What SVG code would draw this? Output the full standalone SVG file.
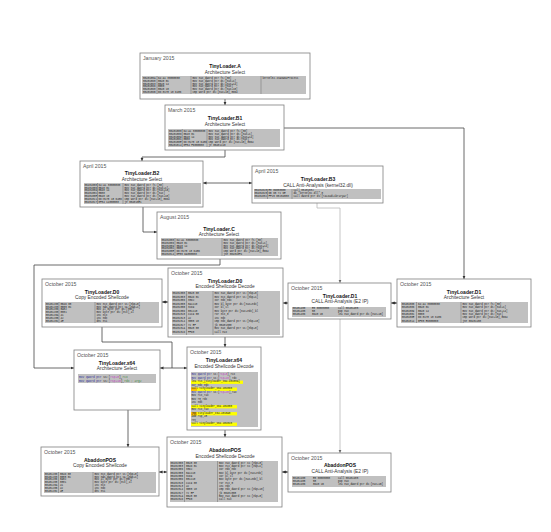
<svg xmlns="http://www.w3.org/2000/svg" width="551" height="532" viewBox="0 0 551 532">
<style>
.box{fill:#fff;stroke:#7f7f7f;stroke-width:0.8}
.dt{font-family:"Liberation Sans",sans-serif;font-size:5.2px;fill:#555}
.nm{font-family:"Liberation Sans",sans-serif;font-size:5px;font-weight:bold;fill:#111;text-anchor:middle}
.sb{font-family:"Liberation Sans",sans-serif;font-size:4.8px;fill:#333;text-anchor:middle}
.cb{fill:#c0c0c0}
.c{font-family:"Liberation Mono",monospace;font-size:2.6px;fill:#222}
.dv{stroke:#555;stroke-width:0.4}
.ln{fill:none;stroke:#444;stroke-width:0.8}
.lg{fill:none;stroke:#b8b8b8;stroke-width:0.8}
.hy{fill:#ffff00}
.ho{fill:#ffc000}
.kw{fill:#30309a}
.pk{fill:#c03cc0}
.gr{fill:#3a8a3a}
</style>
<defs>
<marker id="ah" markerWidth="4" markerHeight="4" refX="3.5" refY="2" orient="auto-start-reverse" markerUnits="userSpaceOnUse"><path d="M0,0.4 L3.5,2 L0,3.6z" fill="#333"/></marker>
<marker id="ahg" markerWidth="4" markerHeight="4" refX="3.5" refY="2" orient="auto-start-reverse" markerUnits="userSpaceOnUse"><path d="M0,0.4 L3.5,2 L0,3.6z" fill="#666"/></marker>
</defs>
<rect width="551" height="532" fill="#fff"/>

<g id="connectors">
<path class="ln" d="M225,99 V105" marker-end="url(#ah)"/>
<path class="ln" d="M225,150 V157 H142 V161" marker-end="url(#ah)"/>
<path class="ln" d="M284,128 H464 V279" marker-end="url(#ah)"/>
<path class="ln" d="M203,183 H252" marker-start="url(#ah)" marker-end="url(#ah)"/>
<path class="ln" d="M143,207 V232 H157" marker-end="url(#ah)"/>
<path class="lg" d="M317,203 V208 H340 V283" marker-end="url(#ahg)"/>
<path class="ln" d="M220,259 V265 H34 V368 H74" marker-end="url(#ah)"/>
<path class="ln" d="M162,302 H168" marker-start="url(#ah)" marker-end="url(#ah)"/>
<path class="ln" d="M283,303 H288" marker-start="url(#ah)" marker-end="url(#ah)"/>
<path class="ln" d="M391,303 H397" marker-start="url(#ah)" marker-end="url(#ah)"/>
<path class="ln" d="M225,337 V347" marker-end="url(#ah)"/>
<path class="ln" d="M102,327 V342 H172 V368"/>
<path class="ln" d="M160,368 H187" marker-start="url(#ah)" marker-end="url(#ah)"/>
<path class="ln" d="M128,410 V447" marker-end="url(#ah)"/>
<path class="ln" d="M225,430 V437" marker-end="url(#ah)"/>
<path class="lg" d="M340,319 V453" marker-end="url(#ahg)"/>
<path class="ln" d="M159,472 H167" marker-start="url(#ah)" marker-end="url(#ah)"/>
<path class="ln" d="M282,472 H288" marker-start="url(#ah)" marker-end="url(#ah)"/>
</g>

<g id="node-a">
<rect class="box" x="140" y="53" width="170" height="46"/>
<text class="dt" x="143" y="60">January 2015</text>
<text class="nm" x="225" y="67.5">TinyLoader.A</text>
<text class="sb" x="225" y="73.5">Architecture Select</text>
<rect class="cb" x="142" y="76" width="164" height="18"/>
<line class="dv" x1="157" y1="76" x2="157" y2="94"/><line class="dv" x1="191" y1="76" x2="191" y2="94"/><line class="dv" x1="261" y1="76" x2="261" y2="94"/>
<text class="c" y="78.7"><tspan x="143">0040105A</tspan><tspan x="158">64:A1 30000000</tspan><tspan x="192.5">mov eax,dword ptr fs:[30]</tspan><tspan x="262.5">kernel32.IsWow64Process</tspan></text>
<text class="c" y="81.6"><tspan x="143">00401060</tspan><tspan x="158">8B40 0C</tspan><tspan x="192.5">mov eax,dword ptr ds:[eax+C]</tspan></text>
<text class="c" y="84.5"><tspan x="143">00401063</tspan><tspan x="158">8B40 14</tspan><tspan x="192.5">mov eax,dword ptr ds:[eax+14]</tspan></text>
<text class="c" y="87.4"><tspan x="143">00401066</tspan><tspan x="158">8B00</tspan><tspan x="192.5">mov eax,dword ptr ds:[eax]</tspan></text>
<text class="c" y="90.3"><tspan x="143">00401068</tspan><tspan x="158">8B40 10</tspan><tspan x="192.5">mov eax,dword ptr ds:[eax+10]</tspan></text>
<text class="c" y="93.2"><tspan x="143">0040106B</tspan><tspan x="158">66:8178 18 6486</tspan><tspan x="192.5">cmp word ptr ds:[eax+18],8664</tspan></text>
</g>

<g id="node-b1">
<rect class="box" x="165" y="105" width="119" height="45"/>
<text class="dt" x="168" y="111.5">March 2015</text>
<text class="nm" x="225" y="120">TinyLoader.B1</text>
<text class="sb" x="225" y="126">Architecture Select</text>
<rect class="cb" x="168" y="129" width="112" height="18"/>
<line class="dv" x1="182.3" y1="129" x2="182.3" y2="147"/><line class="dv" x1="207" y1="129" x2="207" y2="147"/>
<text class="c" y="131.7"><tspan x="169">00401000</tspan><tspan x="183.5">64:A1 30000000</tspan><tspan x="208.5">mov eax,dword ptr fs:[30]</tspan></text>
<text class="c" y="134.6"><tspan x="169">00401006</tspan><tspan x="183.5">8B40 0C</tspan><tspan x="208.5">mov eax,dword ptr ds:[eax+C]</tspan></text>
<text class="c" y="137.5"><tspan x="169">00401009</tspan><tspan x="183.5">8B40 14</tspan><tspan x="208.5">mov eax,dword ptr ds:[eax+14]</tspan></text>
<text class="c" y="140.4"><tspan x="169">0040100C</tspan><tspan x="183.5">8B00</tspan><tspan x="208.5">mov eax,dword ptr ds:[eax]</tspan></text>
<text class="c" y="143.3"><tspan x="169">0040100E</tspan><tspan x="183.5">66:8178 18 6486</tspan><tspan x="208.5">cmp word ptr ds:[eax+18],8664</tspan></text>
<text class="c" y="146.2"><tspan x="169">00401014</tspan><tspan x="183.5">0F84 F6000000</tspan><tspan x="208.5">je 00401110</tspan></text>
</g>

<g id="node-b2">
<rect class="box" x="80" y="161" width="123" height="46"/>
<text class="dt" x="83" y="167.5">April 2015</text>
<text class="nm" x="142" y="175">TinyLoader.B2</text>
<text class="sb" x="142" y="180.5">Architecture Select</text>
<rect class="cb" x="84" y="183" width="117" height="21"/>
<line class="dv" x1="97.5" y1="183" x2="97.5" y2="204"/><line class="dv" x1="123" y1="183" x2="123" y2="204"/>
<text class="c" y="185.6"><tspan x="84.5">00401000</tspan><tspan x="98.5">64:A1 30000000</tspan><tspan x="124.5">mov eax,dword ptr fs:[30]</tspan></text>
<text class="c" y="188.5"><tspan x="84.5">00401006</tspan><tspan x="98.5">8B40 0C</tspan><tspan x="124.5">mov eax,dword ptr ds:[eax+C]</tspan></text>
<text class="c" y="191.4"><tspan x="84.5">00401009</tspan><tspan x="98.5">8B40 14</tspan><tspan x="124.5">mov eax,dword ptr ds:[eax+14]</tspan></text>
<text class="c" y="194.3"><tspan x="84.5">0040100C</tspan><tspan x="98.5">8B00</tspan><tspan x="124.5">mov eax,dword ptr ds:[eax]</tspan></text>
<text class="c" y="197.2"><tspan x="84.5">0040100E</tspan><tspan x="98.5">8B40 10</tspan><tspan x="124.5">mov eax,dword ptr ds:[eax+10]</tspan></text>
<text class="c" y="200.1"><tspan x="84.5">00401011</tspan><tspan x="98.5">66:8178 18 6486</tspan><tspan x="124.5">cmp word ptr ds:[eax+18],8664</tspan></text>
<text class="c" y="203"><tspan x="84.5">00401017</tspan><tspan x="98.5">0F84 C4000000</tspan><tspan x="124.5">je 004010E1</tspan></text>
</g>

<g id="node-b3">
<rect class="box" x="252" y="166" width="131" height="37"/>
<text class="dt" x="255" y="172.5">April 2015</text>
<text class="nm" x="318" y="180.5">TinyLoader.B3</text>
<text class="sb" x="318" y="186.5">CALL Anti-Analysis (kernel32.dll)</text>
<rect class="cb" x="254" y="189" width="127" height="10"/>
<line class="dv" x1="267.5" y1="189" x2="267.5" y2="199"/><line class="dv" x1="292" y1="189" x2="292" y2="199"/>
<text class="c" y="191.4"><tspan x="254.5">00401020</tspan><tspan x="268.5">E8 0D000000</tspan><tspan x="293.5">call 00401032</tspan></text>
<text class="c" y="194.3"><tspan x="254.5">00401025</tspan><tspan x="268.5">6B 65 72 6E</tspan><tspan x="293.5">db "kernel32.dll",0</tspan></text>
<text class="c" y="197.2"><tspan x="254.5">00401032</tspan><tspan x="268.5">FF15 08204000</tspan><tspan x="293.5">call dword ptr ds:[&lt;&amp;LoadLibraryA&gt;]</tspan></text>
</g>

<g id="node-c">
<rect class="box" x="157" y="212" width="124" height="47"/>
<text class="dt" x="160" y="218.5">August 2015</text>
<text class="nm" x="219" y="230.5">TinyLoader.C</text>
<text class="sb" x="219" y="236">Architecture Select</text>
<rect class="cb" x="161" y="238" width="117" height="18"/>
<line class="dv" x1="175" y1="238" x2="175" y2="256"/><line class="dv" x1="222" y1="238" x2="222" y2="256"/>
<text class="c" y="240.7"><tspan x="161.5">00401000</tspan><tspan x="176.5">64:A1 30000000</tspan><tspan x="223.5">mov eax,dword ptr fs:[30]</tspan></text>
<text class="c" y="243.6"><tspan x="161.5">00401006</tspan><tspan x="176.5">8B40 0C</tspan><tspan x="223.5">mov eax,dword ptr ds:[eax+C]</tspan></text>
<text class="c" y="246.5"><tspan x="161.5">00401009</tspan><tspan x="176.5">8B40 14</tspan><tspan x="223.5">mov eax,dword ptr ds:[eax+14]</tspan></text>
<text class="c" y="249.4"><tspan x="161.5">0040100C</tspan><tspan x="176.5">8B00</tspan><tspan x="223.5">mov eax,dword ptr ds:[eax]</tspan></text>
<text class="c" y="252.3"><tspan x="161.5">0040100E</tspan><tspan x="176.5">66:8178 18 6486</tspan><tspan x="223.5">cmp word ptr ds:[eax+18],8664</tspan></text>
<text class="c" y="255.2"><tspan x="161.5">00401014</tspan><tspan x="176.5">0F85 DA000000</tspan><tspan x="223.5">jne 004010F4</tspan></text>
</g>

<g id="node-d0-copy">
<rect class="box" x="42" y="279" width="120" height="48"/>
<text class="dt" x="45" y="285.5">October 2015</text>
<text class="nm" x="102" y="293.5">TinyLoader.D0</text>
<text class="sb" x="102" y="299">Copy Encoded Shellcode</text>
<rect class="cb" x="45" y="302" width="114" height="21"/>
<line class="dv" x1="59" y1="302" x2="59" y2="323"/><line class="dv" x1="95" y1="302" x2="95" y2="323"/>
<text class="c" y="304.6"><tspan x="45.8">00401200</tspan><tspan x="60.5">8B4D 08</tspan><tspan x="96.5">mov ecx,dword ptr ss:[ebp+8]</tspan></text>
<text class="c" y="307.5"><tspan x="45.8">00401203</tspan><tspan x="60.5">8B55 0C</tspan><tspan x="96.5">mov edx,dword ptr ss:[ebp+C]</tspan></text>
<text class="c" y="310.4"><tspan x="45.8">00401206</tspan><tspan x="60.5">8A02</tspan><tspan x="96.5">mov al,byte ptr ds:[edx]</tspan></text>
<text class="c" y="313.3"><tspan x="45.8">00401208</tspan><tspan x="60.5">8801</tspan><tspan x="96.5">mov byte ptr ds:[ecx],al</tspan></text>
<text class="c" y="316.2"><tspan x="45.8">0040120A</tspan><tspan x="60.5">41</tspan><tspan x="96.5">inc ecx</tspan></text>
<text class="c" y="319.1"><tspan x="45.8">0040120B</tspan><tspan x="60.5">42</tspan><tspan x="96.5">inc edx</tspan></text>
<text class="c" y="322"><tspan x="45.8">0040120C</tspan><tspan x="60.5">4E</tspan><tspan x="96.5">dec esi</tspan></text>
</g>

<g id="node-d0-decode">
<rect class="box" x="168" y="268" width="115" height="69"/>
<text class="dt" x="171" y="274.5">October 2015</text>
<text class="nm" x="225" y="282.5">TinyLoader.D0</text>
<text class="sb" x="225" y="288">Encoded Shellcode Decode</text>
<rect class="cb" x="172" y="291" width="108" height="44"/>
<line class="dv" x1="186.5" y1="291" x2="186.5" y2="335"/><line class="dv" x1="213" y1="291" x2="213" y2="335"/>
<text class="c" y="294"><tspan x="172.5">00401300</tspan><tspan x="188">8B45 08</tspan><tspan x="214.5">mov eax,dword ptr ss:[ebp+8]</tspan></text>
<text class="c" y="297.5"><tspan x="172.5">00401303</tspan><tspan x="188">8B4D 0C</tspan><tspan x="214.5">mov ecx,dword ptr ss:[ebp+C]</tspan></text>
<text class="c" y="301"><tspan x="172.5">00401306</tspan><tspan x="188">33D2</tspan><tspan x="214.5">xor edx,edx</tspan></text>
<text class="c" y="304.5"><tspan x="172.5">00401308</tspan><tspan x="188">8A1C10</tspan><tspan x="214.5">mov bl,byte ptr ds:[eax+edx]</tspan></text>
<text class="c" y="308"><tspan x="172.5">0040130B</tspan><tspan x="188">32D9</tspan><tspan x="214.5">xor bl,cl</tspan></text>
<text class="c" y="311.5"><tspan x="172.5">0040130D</tspan><tspan x="188">881C10</tspan><tspan x="214.5">mov byte ptr ds:[eax+edx],bl</tspan></text>
<text class="c" y="315"><tspan x="172.5">00401310</tspan><tspan x="188">C1C9 08</tspan><tspan x="214.5">ror ecx,8</tspan></text>
<text class="c" y="318.5"><tspan x="172.5">00401313</tspan><tspan x="188">42</tspan><tspan x="214.5">inc edx</tspan></text>
<text class="c" y="322"><tspan x="172.5">00401314</tspan><tspan x="188">3B55 10</tspan><tspan x="214.5">cmp edx,dword ptr ss:[ebp+10]</tspan></text>
<text class="c" y="325.5"><tspan x="172.5">00401317</tspan><tspan x="188">72 EF</tspan><tspan x="214.5">jb 00401308</tspan></text>
<text class="c" y="329"><tspan x="172.5">0040131A</tspan><tspan x="188">8B45 08</tspan><tspan x="214.5">mov eax,dword ptr ss:[ebp+8]</tspan></text>
<text class="c" y="332.5"><tspan x="172.5">0040131D</tspan><tspan x="188">FFD0</tspan><tspan x="214.5">call eax</tspan></text>
</g>

<g id="node-d1-call">
<rect class="box" x="288" y="283" width="103" height="36"/>
<text class="dt" x="291" y="289.5">October 2015</text>
<text class="nm" x="340" y="297.5">TinyLoader.D1</text>
<text class="sb" x="340" y="303">CALL Anti-Analysis (E2 IP)</text>
<rect class="cb" x="292" y="307" width="94" height="10"/>
<text class="c" y="309.4"><tspan x="292.8">00401400</tspan><tspan x="312">E8 00000000</tspan><tspan x="338">call 00401405</tspan></text>
<text class="c" y="312.3"><tspan x="292.8">00401405</tspan><tspan x="312">58</tspan><tspan x="338">pop eax</tspan></text>
<text class="c" y="315.2"><tspan x="292.8">00401406</tspan><tspan x="312">8D40 1B</tspan><tspan x="338">lea eax,dword ptr ds:[eax+1B]</tspan></text>
</g>

<g id="node-d1-arch">
<rect class="box" x="397" y="279" width="134" height="48"/>
<text class="dt" x="400" y="285.5">October 2015</text>
<text class="nm" x="464" y="293.5">TinyLoader.D1</text>
<text class="sb" x="464" y="299">Architecture Select</text>
<rect class="cb" x="401" y="302" width="127" height="21"/>
<line class="dv" x1="416.5" y1="302" x2="416.5" y2="323"/><line class="dv" x1="461" y1="302" x2="461" y2="323"/>
<text class="c" y="304.8"><tspan x="401.8">00401000</tspan><tspan x="418">64:A1 30000000</tspan><tspan x="462.5">mov eax,dword ptr fs:[30]</tspan></text>
<text class="c" y="308.2"><tspan x="401.8">00401006</tspan><tspan x="418">8B40 0C</tspan><tspan x="462.5">mov eax,dword ptr ds:[eax+C]</tspan></text>
<text class="c" y="311.6"><tspan x="401.8">00401009</tspan><tspan x="418">8B40 14</tspan><tspan x="462.5">mov eax,dword ptr ds:[eax+14]</tspan></text>
<text class="c" y="315"><tspan x="401.8">0040100C</tspan><tspan x="418">8B00</tspan><tspan x="462.5">mov eax,dword ptr ds:[eax]</tspan></text>
<text class="c" y="318.4"><tspan x="401.8">0040100E</tspan><tspan x="418">66:8178 18 6486</tspan><tspan x="462.5">cmp word ptr ds:[eax+18],8664</tspan></text>
<text class="c" y="321.8"><tspan x="401.8">00401014</tspan><tspan x="418">0F85 E6000000</tspan><tspan x="462.5">jne 00401100</tspan></text>
</g>

<g id="node-x64">
<rect class="box" x="74" y="350" width="86" height="60"/>
<text class="dt" x="77" y="356.5">October 2015</text>
<text class="nm" x="117" y="364.5">TinyLoader.x64</text>
<text class="sb" x="117" y="370">Architecture Select</text>
<rect class="cb" x="78" y="374" width="78" height="9"/>
<text class="c" x="79" y="377.6" style="font-size:2.9px"><tspan class="kw">mov qword ptr</tspan> ss:[<tspan class="pk">rsp+8</tspan>],<tspan class="gr">rcx</tspan></text>
<text class="c" x="79" y="381.6" style="font-size:2.9px"><tspan class="kw">mov qword ptr</tspan> ss:[<tspan class="pk">rsp+10</tspan>],<tspan class="gr">rdx ; arg2</tspan></text>
</g>

<g id="node-d0-x64">
<rect class="box" x="187" y="347" width="74" height="83"/>
<text class="dt" x="190" y="353.5">October 2015</text>
<text class="nm" x="224" y="362">TinyLoader.x64</text>
<text class="sb" x="224" y="367.5">Encoded Shellcode Decode</text>
<rect class="cb" x="191" y="372" width="67" height="55"/>
<rect class="hy" x="191" y="380.6" width="52" height="3.3"/>
<rect class="hy" x="191" y="387.6" width="46" height="3.3"/>
<rect class="ho" x="191" y="387.6" width="6" height="3.3"/>
<rect class="hy" x="191" y="405.1" width="46" height="3.3"/>
<rect class="hy" x="191" y="412.1" width="46" height="3.3"/>
<rect class="ho" x="191" y="412.1" width="6" height="3.3"/>
<rect class="hy" x="191" y="422.6" width="46" height="3.3"/>
<text class="c" x="191.5" y="375.4"><tspan class="kw">mov qword ptr</tspan> ss:[<tspan class="pk">rsp+8</tspan>],rcx</text>
<text class="c" x="191.5" y="378.9"><tspan class="kw">mov qword ptr</tspan> ss:[<tspan class="pk">rsp+10</tspan>],rdx</text>
<text class="c" x="191.5" y="382.4">lea rcx,[tinyloader_x64.40103A]</text>
<text class="c" x="191.5" y="385.9">xor edx,edx</text>
<text class="c" x="191.5" y="389.4">call tinyloader_x64.401060</text>
<text class="c" x="191.5" y="392.9"><tspan class="kw">mov qword ptr</tspan> ss:[<tspan class="pk">rsp+20</tspan>],rax</text>
<text class="c" x="191.5" y="396.4">mov rcx,rax</text>
<text class="c" x="191.5" y="399.9">mov r8,rdx</text>
<text class="c" x="191.5" y="403.4">inc edx</text>
<text class="c" x="191.5" y="406.9">call tinyloader_x64.401080</text>
<text class="c" x="191.5" y="410.4">mov rcx,rax</text>
<text class="c" x="191.5" y="413.9">jmp tinyloader_x64.4010A0</text>
<text class="c" x="191.5" y="417.4">add rsp,28</text>
<text class="c" x="191.5" y="420.9">ret</text>
<text class="c" x="191.5" y="424.4">call tinyloader_x64.4010C0</text>
</g>

<g id="node-abaddon-copy">
<rect class="box" x="41" y="447" width="118" height="49"/>
<text class="dt" x="44" y="453.5">October 2015</text>
<text class="nm" x="100" y="461.5">AbaddonPOS</text>
<text class="sb" x="100" y="467">Copy Encoded Shellcode</text>
<rect class="cb" x="44" y="472" width="112" height="21"/>
<line class="dv" x1="58.5" y1="472" x2="58.5" y2="493"/><line class="dv" x1="93" y1="472" x2="93" y2="493"/>
<text class="c" y="474.6"><tspan x="44.8">00401200</tspan><tspan x="60">8B4D 08</tspan><tspan x="94.5">mov ecx,dword ptr ss:[ebp+8]</tspan></text>
<text class="c" y="477.5"><tspan x="44.8">00401203</tspan><tspan x="60">8B55 0C</tspan><tspan x="94.5">mov edx,dword ptr ss:[ebp+C]</tspan></text>
<text class="c" y="480.4"><tspan x="44.8">00401206</tspan><tspan x="60">8A02</tspan><tspan x="94.5">mov al,byte ptr ds:[edx]</tspan></text>
<text class="c" y="483.3"><tspan x="44.8">00401208</tspan><tspan x="60">8801</tspan><tspan x="94.5">mov byte ptr ds:[ecx],al</tspan></text>
<text class="c" y="486.2"><tspan x="44.8">0040120A</tspan><tspan x="60">41</tspan><tspan x="94.5">inc ecx</tspan></text>
<text class="c" y="489.1"><tspan x="44.8">0040120B</tspan><tspan x="60">42</tspan><tspan x="94.5">inc edx</tspan></text>
<text class="c" y="492"><tspan x="44.8">0040120C</tspan><tspan x="60">4E</tspan><tspan x="94.5">dec esi</tspan></text>
</g>

<g id="node-abaddon-decode">
<rect class="box" x="167" y="437" width="115" height="70"/>
<text class="dt" x="170" y="443.5">October 2015</text>
<text class="nm" x="225" y="452">AbaddonPOS</text>
<text class="sb" x="225" y="457.5">Encoded Shellcode Decode</text>
<rect class="cb" x="170" y="461" width="108" height="41"/>
<line class="dv" x1="184.5" y1="461" x2="184.5" y2="502"/><line class="dv" x1="217.5" y1="461" x2="217.5" y2="502"/>
<text class="c" y="463.8"><tspan x="170.5">00402300</tspan><tspan x="186">8B45 08</tspan><tspan x="219">mov eax,dword ptr ss:[ebp+8]</tspan></text>
<text class="c" y="467.1"><tspan x="170.5">00402303</tspan><tspan x="186">8B4D 0C</tspan><tspan x="219">mov ecx,dword ptr ss:[ebp+C]</tspan></text>
<text class="c" y="470.4"><tspan x="170.5">00402306</tspan><tspan x="186">33D2</tspan><tspan x="219">xor edx,edx</tspan></text>
<text class="c" y="473.7"><tspan x="170.5">00402308</tspan><tspan x="186">8A1C10</tspan><tspan x="219">mov bl,byte ptr ds:[eax+edx]</tspan></text>
<text class="c" y="477"><tspan x="170.5">0040230B</tspan><tspan x="186">32D9</tspan><tspan x="219">xor bl,cl</tspan></text>
<text class="c" y="480.3"><tspan x="170.5">0040230D</tspan><tspan x="186">881C10</tspan><tspan x="219">mov byte ptr ds:[eax+edx],bl</tspan></text>
<text class="c" y="483.6"><tspan x="170.5">00402310</tspan><tspan x="186">C1C9 08</tspan><tspan x="219">ror ecx,8</tspan></text>
<text class="c" y="486.9"><tspan x="170.5">00402313</tspan><tspan x="186">42</tspan><tspan x="219">inc edx</tspan></text>
<text class="c" y="490.2"><tspan x="170.5">00402314</tspan><tspan x="186">3B55 10</tspan><tspan x="219">cmp edx,dword ptr ss:[ebp+10]</tspan></text>
<text class="c" y="493.5"><tspan x="170.5">00402317</tspan><tspan x="186">72 EF</tspan><tspan x="219">jb 00402308</tspan></text>
<text class="c" y="496.8"><tspan x="170.5">0040231A</tspan><tspan x="186">8B45 08</tspan><tspan x="219">mov eax,dword ptr ss:[ebp+8]</tspan></text>
<text class="c" y="500.1"><tspan x="170.5">0040231D</tspan><tspan x="186">FFD0</tspan><tspan x="219">call eax</tspan></text>
</g>

<g id="node-abaddon-call">
<rect class="box" x="288" y="453" width="103" height="39"/>
<text class="dt" x="291" y="459.5">October 2015</text>
<text class="nm" x="340" y="467">AbaddonPOS</text>
<text class="sb" x="340" y="473">CALL Anti-Analysis (E2 IP)</text>
<rect class="cb" x="292" y="476" width="94" height="11"/>
<text class="c" y="478.6"><tspan x="292.8">00402400</tspan><tspan x="313">E8 00000000</tspan><tspan x="338">call 00402405</tspan></text>
<text class="c" y="481.6"><tspan x="292.8">00402405</tspan><tspan x="313">58</tspan><tspan x="338">pop eax</tspan></text>
<text class="c" y="484.6"><tspan x="292.8">00402406</tspan><tspan x="313">8D40 1B</tspan><tspan x="338">lea eax,dword ptr ds:[eax+1B]</tspan></text>
</g>
</svg>
